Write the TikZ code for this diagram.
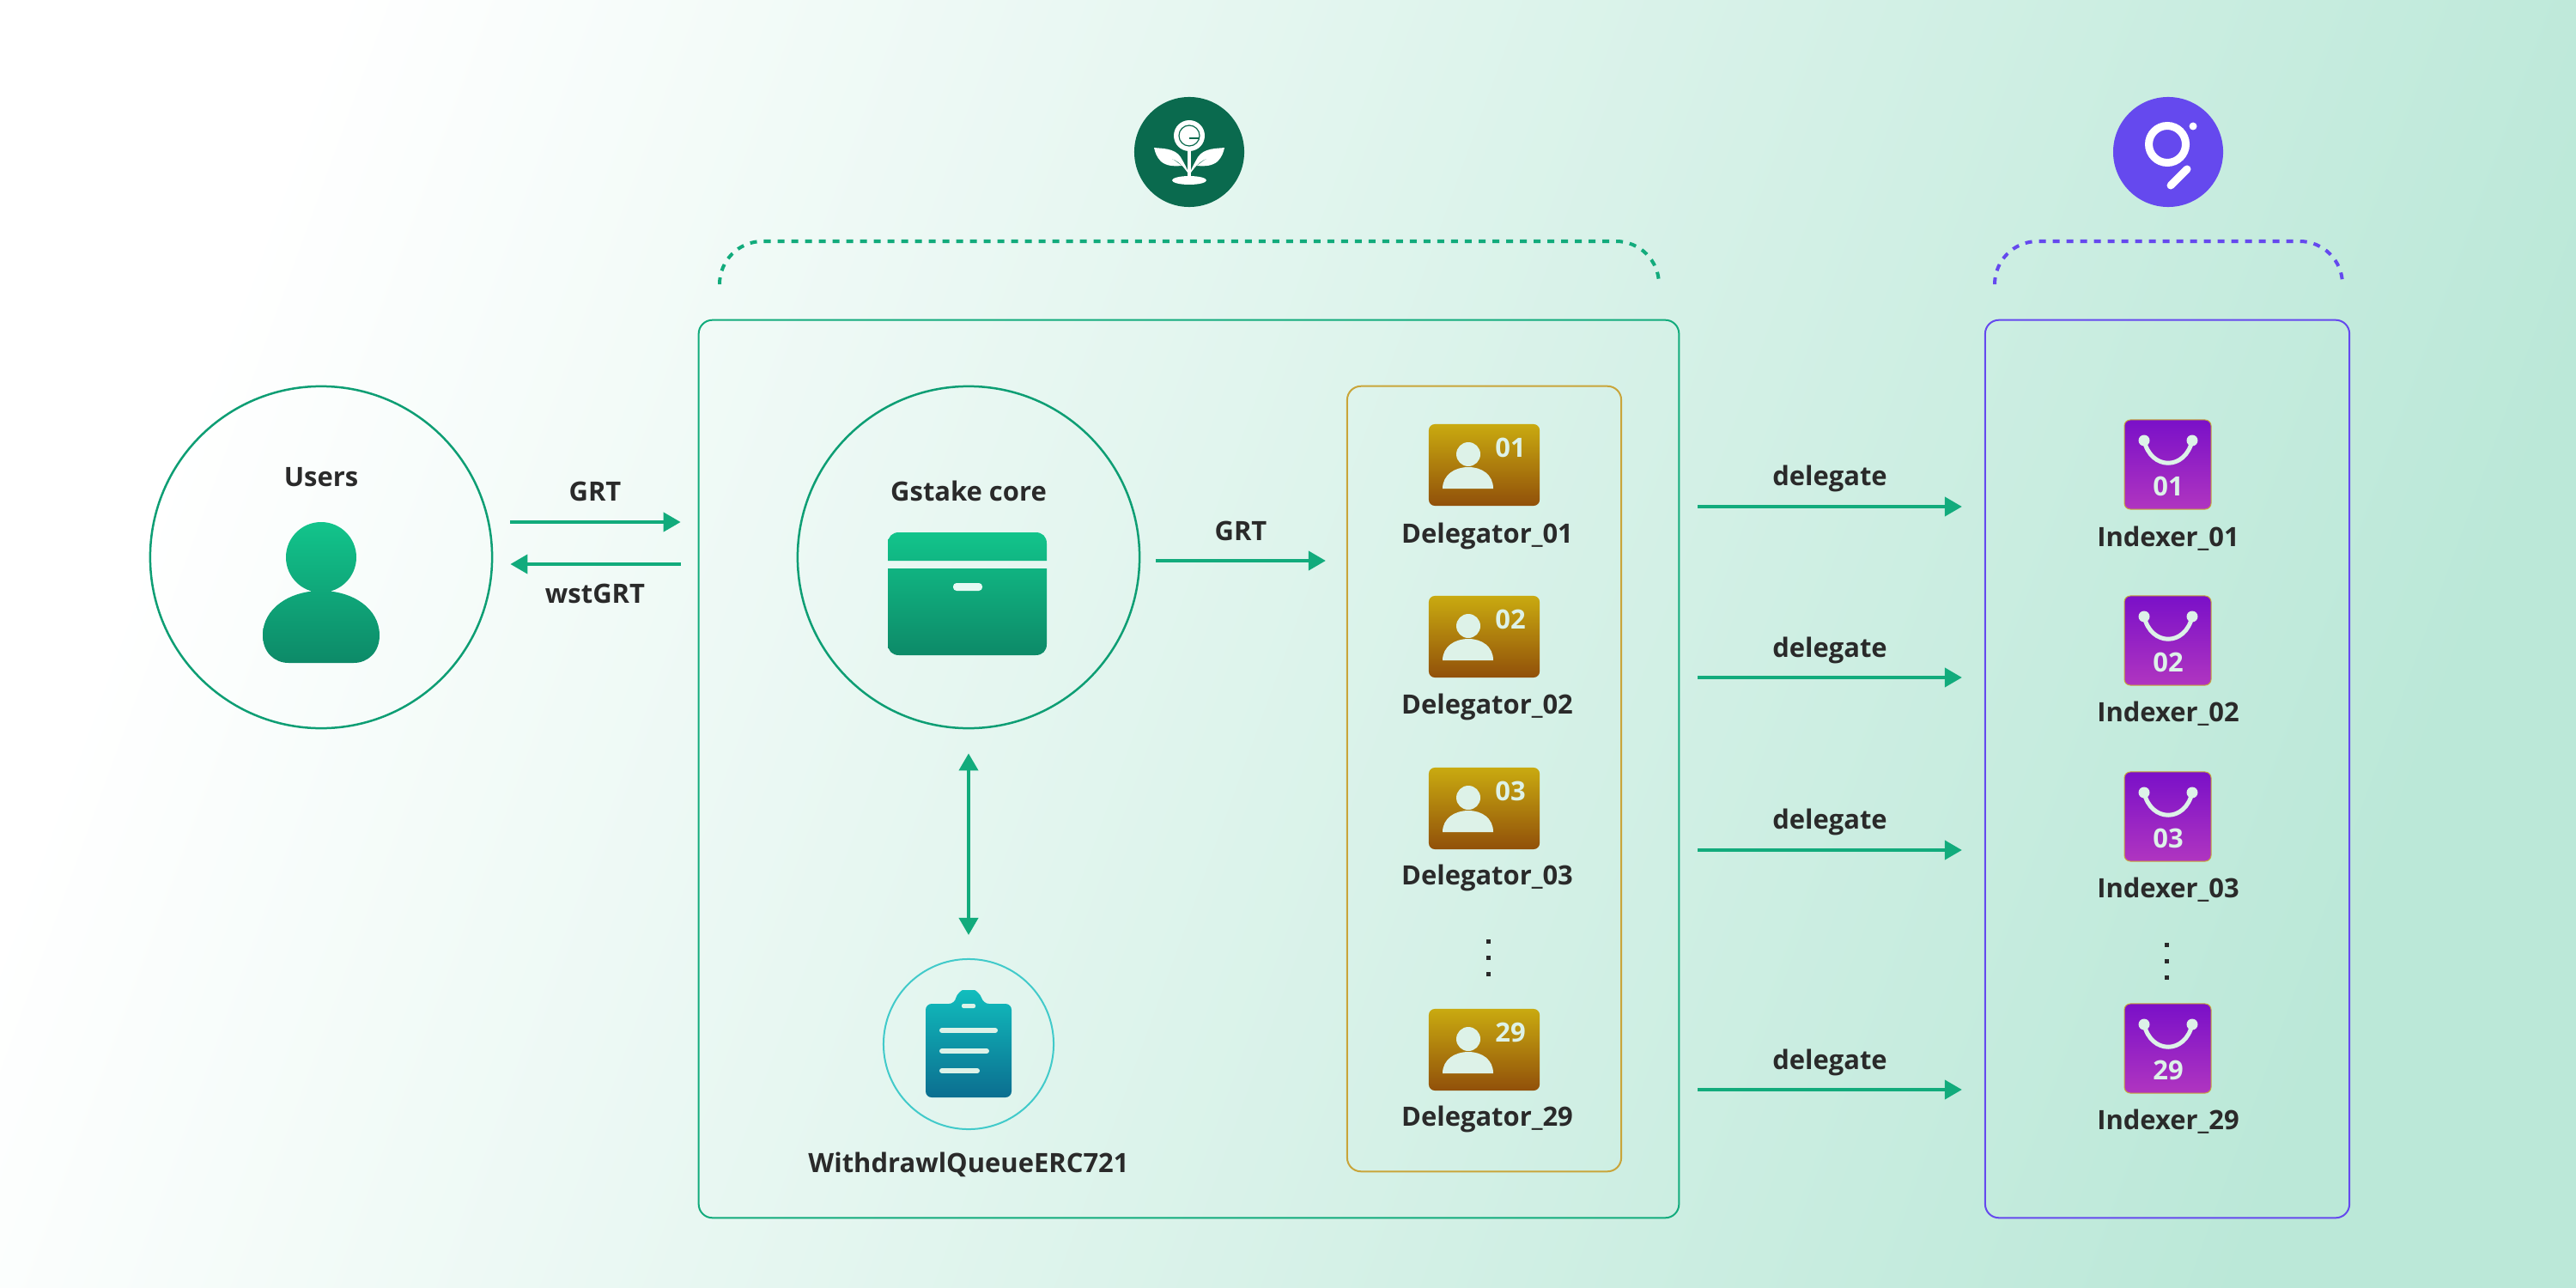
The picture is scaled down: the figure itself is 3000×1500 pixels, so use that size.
\documentclass[tikz,border=0pt]{standalone}
\usepackage{fontspec}
\setmainfont{Open Sans}
\usetikzlibrary{arrows.meta}
\definecolor{flowgreen}{HTML}{12AB7C}
\definecolor{boxgreen}{HTML}{0E9E74}
\definecolor{leafgreen}{HTML}{0A6A4E}
\definecolor{graphblue}{HTML}{6549EE}
\definecolor{framegold}{HTML}{C9A53A}
\definecolor{pale}{HTML}{DDF2E8}
\definecolor{ink}{HTML}{2A2A2A}
\definecolor{bgend}{HTML}{BBE8D8}
\tikzset{
    lbl/.style={font=\bfseries\fontsize{8.8}{10}\selectfont, text=ink, inner sep=0pt, anchor=base},
    num/.style={font=\bfseries\fontsize{8.8}{10}\selectfont, text=pale, inner sep=0pt},
    flow/.style={line width=0.04cm, draw=flowgreen, -{Triangle[length=0.2cm,width=0.22cm]}},
    frame/.style={draw, line width=0.02cm, rectangle, rounded corners=0.16cm, minimum width=#1},
    ring/.style={draw=boxgreen, line width=0.025cm, circle, minimum size=3.98cm, inner sep=0pt},
    bracket/.style={line width=0.04cm, dash pattern=on 0.08cm off 0.08cm, rounded corners=0.5cm},
    delegicon/.style={rectangle, rounded corners=0.07cm, minimum width=1.29cm, minimum height=0.95cm, inner sep=0pt},
    indexicon/.style={rectangle, rounded corners=0.07cm, minimum width=1.01cm, minimum height=1.04cm, inner sep=0pt, draw=framegold, line width=0.01cm},
    dotmark/.style={rectangle, fill=ink, inner sep=0pt, minimum size=0.05cm}
}
\begin{document}
\begin{tikzpicture}[x=0.01cm,y=-0.01cm]
    \definecolor{deepgreen}{HTML}{0D8A68}
    \definecolor{lightgreen}{HTML}{12C48B}
    \useasboundingbox (0,0) rectangle (3000,1500);
    \clip (0,0) rectangle (3000,1500);
    \shade[left color=white, right color=bgend, shading angle=70] (0,0) rectangle (3000,1500);

    % logos
    \node[circle, fill=leafgreen, minimum size=1.28cm, inner sep=0pt] (gstakelogo) at (1385,177) {};
    \fill[white] (1385,158) circle[radius=18];
    \draw[leafgreen, line width=0.012cm] (1385,158) circle[radius=12];
    \draw[leafgreen, line width=0.012cm] (1385,161) -- (1396,161);
    \fill[white] (1383,175) rectangle (1387,205);
    \foreach \mx in {1,-1}
        \fill[white] ({1385-\mx*41},172) .. controls ({1385-\mx*33},173) and ({1385-\mx*17},172) .. ({1385-\mx*10},183)
            .. controls ({1385-\mx*6},190) and ({1385-\mx*2},197) .. (1385,204)
            .. controls ({1385-\mx*5},196) and ({1385-\mx*13},186) .. ({1385-\mx*23},184)
            .. controls ({1385-\mx*17},186) and ({1385-\mx*13},190) .. ({1385-\mx*9},193)
            .. controls ({1385-\mx*19},194) and ({1385-\mx*27},193) .. ({1385-\mx*33},188)
            .. controls ({1385-\mx*38},183) and ({1385-\mx*40},177) .. ({1385-\mx*41},172) -- cycle;
    \fill[white] (1385,210) ellipse[x radius=20, y radius=5];

    \node[circle, fill=graphblue, minimum size=1.28cm, inner sep=0pt] (graphlogo) at (2525,177) {};
    \draw[white, line width=0.09cm] (2524,168) circle[radius=21.5];
    \fill[white] (2554,147) circle[radius=4.5];
    \draw[white, line width=0.09cm, line cap=round] (2547,197) -- (2528,216);

    % brackets
    \draw[bracket, draw=flowgreen] (838,331) -- (838,281) -- (1932,281) -- (1932,331);
    \draw[bracket, draw=graphblue] (2323,331) -- (2323,281) -- (2728,281) -- (2728,331);

    % boxes
    \node[frame=11.41cm, draw=flowgreen, minimum height=10.45cm] (gstakebox) at (1384.5,895.5) {};
    \node[frame=3.19cm, draw=framegold, minimum height=9.14cm] (delegbox) at (1728.5,907) {};
    \node[frame=4.24cm, draw=graphblue, minimum height=10.45cm] (indexbox) at (2524,895.5) {};

    % users
    \node[ring] (users) at (374,649) {};
    \node[lbl] (userslabel) at (374,566) {Users};
    \shade[top color=lightgreen, bottom color=deepgreen] (374,649) circle[radius=41]
        (306,740) .. controls (306,708) and (338,688) .. (374,688) .. controls (410,688) and (442,708) .. (442,740)
        .. controls (442,760) and (428,772) .. (412,772) -- (336,772) .. controls (320,772) and (306,760) .. (306,740) -- cycle;

    % core
    \node[ring] (core) at (1128,649) {};
    \node[lbl] (corelabel) at (1128,583) {Gstake core};
    \shade[top color=lightgreen, bottom color=deepgreen] (1034,653) -- (1034,633) .. controls (1034,625) and (1039,620) .. (1047,620) -- (1206,620) .. controls (1214,620) and (1219,625) .. (1219,633) -- (1219,653) -- cycle
        (1034,662) -- (1219,662) -- (1219,750) .. controls (1219,758) and (1214,763) .. (1206,763) -- (1047,763) .. controls (1039,763) and (1034,758) .. (1034,750) -- cycle;
    \fill[white!90!lightgreen, rounded corners=0.04cm] (1110,679) rectangle (1144,688);

    % queue
    \definecolor{queuetop}{HTML}{11BDBD}
    \definecolor{queuelow}{HTML}{0B6E90}
    \node[circle, draw=queuetop!80!white, line width=0.02cm, minimum size=1.98cm, inner sep=0pt] (queue) at (1128,1216) {};
    \shade[top color=queuetop, bottom color=queuelow, rounded corners=0.07cm] (1078,1169) -- (1112,1169) .. controls (1114,1158) and (1120,1153) .. (1128,1153) .. controls (1136,1153) and (1142,1158) .. (1145,1169) -- (1178,1169) -- (1178,1278) -- (1078,1278) -- cycle;
    \fill[pale, rounded corners=0.02cm] (1120,1169) rectangle (1136,1174);
    \foreach \xe/\ye in {1162/1200,1152/1224,1141/1247}
        \draw[pale, line width=0.06cm, line cap=round] (1097,\ye) -- (\xe-3,\ye);
    \node[lbl] (queuelabel) at (1128,1365) {WithdrawlQueueERC721};

    % delegators
    \definecolor{goldtop}{HTML}{C9AA10}
    \definecolor{goldlow}{HTML}{91500A}
    \foreach \n/\dy/\ty in {01/0/632,02/200/831,03/400/1030,29/681/1311}
        {
        \begin{scope}[shift={(0,\dy)}]
        \node[delegicon, top color=goldtop, bottom color=goldlow] (deleg\n) at (1728.5,541.5) {};
        \fill[pale] (1710,529) circle[radius=14];
        \fill[pale] (1680,569) .. controls (1680,553) and (1694,544) .. (1710,544) .. controls (1726,544) and (1739,553) .. (1739,569) -- cycle;
        \node[num] (delegnum\n) at (1759,521) {\n};
        \end{scope}
        \node[lbl] (deleglabel\n) at (1732,\ty) {Delegator\_\n};
        }
    \foreach \dy [count=\k] in {1096,1115,1134}
        \node[dotmark] (delegdot\k) at (1733,\dy) {};

    % indexers
    \definecolor{plumtop}{HTML}{7A10C8}
    \definecolor{plumlow}{HTML}{B035C0}
    \foreach \n/\dy/\ty in {01/0/636,02/205/840,03/410/1045,29/680/1315}
        {
        \begin{scope}[shift={(0,\dy)}]
        \node[indexicon, top color=plumtop, bottom color=plumlow] (index\n) at (2524.5,541) {};
        \draw[pale, line width=0.05cm] (2497,513) .. controls (2505,548) and (2545,548) .. (2553,513);
        \fill[pale] (2497,513) circle[radius=6.5] (2553,513) circle[radius=6.5];
        \node[num] (indexnum\n) at (2525,566) {\n};
        \end{scope}
        \node[lbl] (indexlabel\n) at (2525,\ty) {Indexer\_\n};
        }
    \foreach \dy [count=\k] in {1100,1119,1138}
        \node[dotmark] (indexdot\k) at (2523,\dy) {};

    % flows
    \draw[flow, shorten <=0.2cm, shorten >=0.2cm] (users.east |- 0,608) -- (gstakebox.west |- 0,608);
    \draw[flow, shorten <=0.2cm, shorten >=0.2cm] (gstakebox.west |- 0,657) -- (users.east |- 0,657);
    \node[lbl] (grtin) at (693,583) {GRT};
    \node[lbl] (wstgrt) at (693,702) {wstGRT};
    \draw[flow, shorten <=0.18cm, shorten >=0.24cm] (core.east |- 0,653) -- (delegbox.west |- 0,653);
    \node[lbl] (grtout) at (1445,629) {GRT};
    \draw[flow, {Triangle[length=0.2cm,width=0.22cm]}-{Triangle[length=0.2cm,width=0.22cm]}, shorten <=0.28cm, shorten >=0.27cm] (core.south) -- (queue.north);
    \foreach \ay/\ly [count=\k] in {590/565,789/765,990/965,1269/1245}
        {
        \draw[flow, shorten <=0.88cm, shorten >=0.26cm] (delegbox.east |- 0,\ay) -- (indexbox.west |- 0,\ay);
        \node[lbl] (delegate\k) at (2131,\ly) {delegate};
        }
\end{tikzpicture}
\end{document}
